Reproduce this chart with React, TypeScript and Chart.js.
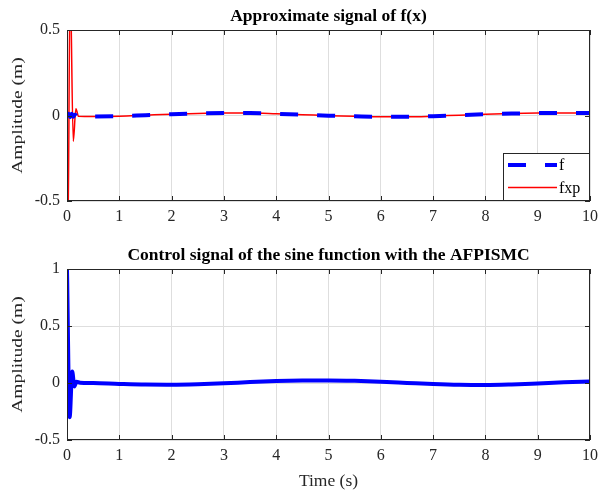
import React, { useEffect, useRef } from 'react';
import { Chart, registerables } from 'chart.js';

Chart.register(...registerables);

// ---- Text ----
const topTitle = 'Approximate signal of f(x)';
const bottomTitle = 'Control signal of the sine function with the AFPISMC';
const yAxisLabel = 'Amplitude (m)';
const xAxisLabel = 'Time (s)';
const fLabel = 'f';
const fxpLabel = 'fxp';

// ---- Ticks ----
const xTicks = [0, 1, 2, 3, 4, 5, 6, 7, 8, 9, 10];
const yTicksTop = [-0.5, 0, 0.5];
const yTicksBottom = [-0.5, 0, 0.5, 1];

// ---- Series: f (blue dashed) ----
const fTime = [0, 0.03, 0.06, 0.09, 0.12, 0.15, 0.2, 0.5, 1, 1.5, 2, 2.5, 3, 3.5, 4, 4.5, 5, 5.5, 6, 6.5, 7, 7.5, 8, 8.5, 9, 9.5, 10];
const fValues = [0, 0.01, -0.01, 0.01, -0.008, 0.005, -0.005, -0.006, -0.004, 0.002, 0.008, 0.012, 0.014, 0.014, 0.01, 0.005, -0.001, -0.005, -0.008, -0.008, -0.004, 0.002, 0.007, 0.011, 0.014, 0.015, 0.014];

// ---- Series: fxp (red) ----
const fxpTime = [0, 0.015, 0.06, 0.12, 0.17, 0.22, 0.5, 1, 1.5, 2, 2.5, 3, 3.5, 4, 4.5, 5, 5.5, 6, 6.5, 7, 7.5, 8, 8.5, 9, 9.5, 10];
const fxpValues = [0.1, -0.8, 0.8, -0.15, 0.04, -0.005, -0.006, -0.004, 0.002, 0.008, 0.012, 0.014, 0.014, 0.01, 0.005, -0.001, -0.005, -0.008, -0.008, -0.004, 0.002, 0.007, 0.011, 0.014, 0.015, 0.014];

// ---- Series: control signal u (blue) ----
const uTime = [0, 0.05, 0.1, 0.14, 0.18, 0.25, 0.5, 1, 1.5, 2, 2.5, 3, 3.5, 4, 4.5, 5, 5.5, 6, 6.5, 7, 7.5, 8, 8.5, 9, 9.5, 10];
const uValues = [1, -0.3, 0.1, -0.03, 0.01, 0.003, 0, -0.008, -0.014, -0.015, -0.011, -0.003, 0.008, 0.017, 0.022, 0.023, 0.019, 0.011, 0.001, -0.009, -0.016, -0.018, -0.013, -0.004, 0.006, 0.013];

const FONT = '"Liberation Serif", "Times New Roman", serif';
const AXIS_COLOR = '#262626';
const GRID_COLOR = '#dedede';

const toPoints = (xs: number[], ys: number[]) => xs.map((x, i) => ({ x, y: ys[i] }));

function drawStretchedText(ctx: CanvasRenderingContext2D, text: string, x: number, y: number, rotate: boolean, stretch: number) {
  ctx.save();
  ctx.translate(x, y);
  if (rotate) ctx.rotate(-Math.PI / 2);
  ctx.scale(stretch, 1);
  ctx.fillText(text, 0, 0);
  ctx.restore();
}

const decorPlugin = {
  id: 'decor',
  afterDraw(chart: any, _args: any, opts: any) {
    const { ctx, chartArea: a, scales } = chart;
    const xs = scales.x;
    const ys = scales.y;
    ctx.save();
    // frame
    ctx.strokeStyle = AXIS_COLOR;
    ctx.lineWidth = 1;
    ctx.strokeRect(Math.round(a.left) + 0.5, Math.round(a.top) + 0.5, Math.round(a.width) - 1, Math.round(a.height) - 1);
    // inward ticks
    ctx.beginPath();
    xTicks.forEach((v) => {
      const px = Math.round(xs.getPixelForValue(v)) + 0.5;
      ctx.moveTo(px, a.bottom);
      ctx.lineTo(px, a.bottom - 5);
      ctx.moveTo(px, a.top);
      ctx.lineTo(px, a.top + 5);
    });
    (opts.yTicks as number[]).forEach((v) => {
      const py = Math.round(ys.getPixelForValue(v)) + 0.5;
      ctx.moveTo(a.left, py);
      ctx.lineTo(a.left + 5, py);
      ctx.moveTo(a.right, py);
      ctx.lineTo(a.right - 5, py);
    });
    ctx.stroke();

    // title
    ctx.fillStyle = '#000';
    ctx.textAlign = 'center';
    ctx.textBaseline = 'middle';
    ctx.font = 'bold 17.5px ' + FONT;
    ctx.fillText(opts.title, (a.left + a.right) / 2, opts.titleY);

    // y label
    ctx.fillStyle = AXIS_COLOR;
    ctx.font = '15px ' + FONT;
    drawStretchedText(ctx, yAxisLabel, 18, (a.top + a.bottom) / 2, true, 1.3);

    // x label
    if (opts.xLabel) {
      ctx.font = '17.5px ' + FONT;
      ctx.fillText(opts.xLabel, (a.left + a.right) / 2, opts.xLabelY);
    }

    // legend
    if (opts.legend) {
      const w = 86;
      const h = 47;
      const lx = Math.round(a.right) - 1 - w;
      const ly = Math.round(a.bottom) - 1 - h;
      ctx.fillStyle = '#fff';
      ctx.fillRect(lx, ly, w, h);
      ctx.strokeStyle = AXIS_COLOR;
      ctx.lineWidth = 1;
      ctx.strokeRect(lx + 0.5, ly + 0.5, w, h);
      const ds = chart.data.datasets;
      ds.forEach((d: any, i: number) => {
        const yy = ly + 12 + i * 22.5;
        ctx.save();
        ctx.strokeStyle = d.borderColor;
        ctx.lineWidth = d.borderWidth;
        ctx.setLineDash(d.borderDash || []);
        ctx.beginPath();
        ctx.moveTo(lx + 5, yy);
        ctx.lineTo(lx + 54, yy);
        ctx.stroke();
        ctx.restore();
        ctx.fillStyle = '#000';
        ctx.textAlign = 'left';
        ctx.textBaseline = 'middle';
        ctx.font = '16px ' + FONT;
        ctx.fillText(d.label, lx + 56, yy + 1);
      });
    }
    ctx.restore();
  },
};

function makeOptions(yMin: number, yMax: number, yTicks: number[], padTop: number, xHeight: number, decor: any) {
  return {
    responsive: false,
    animation: false as const,
    layout: { padding: { top: padTop, right: 8, left: 0, bottom: 0 } },
    plugins: {
      legend: { display: false },
      title: { display: false },
      tooltip: { enabled: false },
      decor,
    },
    elements: { point: { radius: 0 } },
    scales: {
      x: {
        type: 'linear' as const,
        min: 0,
        max: 10,
        afterBuildTicks: (s: any) => {
          s.ticks = xTicks.map((v) => ({ value: v }));
        },
        afterFit: (s: any) => {
          s.height = xHeight;
          s.paddingLeft = 0;
          s.paddingRight = 0;
        },
        grid: { color: GRID_COLOR, drawTicks: false },
        border: { display: false },
        ticks: {
          autoSkip: false,
          maxRotation: 0,
          padding: 6,
          color: AXIS_COLOR,
          font: { family: FONT, size: 16 },
          callback: (v: any) => String(v),
        },
      },
      y: {
        type: 'linear' as const,
        min: yMin,
        max: yMax,
        afterBuildTicks: (s: any) => {
          s.ticks = yTicks.map((v) => ({ value: v }));
        },
        afterFit: (s: any) => {
          s.width = 67;
          s.paddingTop = 0;
          s.paddingBottom = 0;
        },
        grid: { color: GRID_COLOR, drawTicks: false },
        border: { display: false },
        ticks: {
          autoSkip: false,
          padding: 7,
          color: AXIS_COLOR,
          font: { family: FONT, size: 16 },
          callback: (v: any) => String(v),
        },
      },
    },
  };
}

export default function App() {
  const topRef = useRef<HTMLCanvasElement>(null);
  const botRef = useRef<HTMLCanvasElement>(null);

  useEffect(() => {
    const top = new Chart(topRef.current as HTMLCanvasElement, {
      type: 'line',
      data: {
        datasets: [
          {
            label: fLabel,
            data: toPoints(fTime, fValues),
            borderColor: '#0000ff',
            borderWidth: 4,
            borderDash: [18, 19],
            cubicInterpolationMode: 'monotone',
            fill: false,
          },
          {
            label: fxpLabel,
            data: toPoints(fxpTime, fxpValues),
            borderColor: '#ff0000',
            borderWidth: 1.5,
            cubicInterpolationMode: 'monotone',
            fill: false,
          },
        ],
      },
      options: makeOptions(-0.5, 0.5, yTicksTop, 30, 39, {
        title: topTitle,
        titleY: 16,
        yTicks: yTicksTop,
        legend: true,
      }) as any,
      plugins: [decorPlugin],
    });

    const bottom = new Chart(botRef.current as HTMLCanvasElement, {
      type: 'line',
      data: {
        datasets: [
          {
            label: 'u',
            data: toPoints(uTime, uValues),
            borderColor: '#0000ff',
            borderWidth: 4,
            cubicInterpolationMode: 'monotone',
            fill: false,
          },
        ],
      },
      options: makeOptions(-0.5, 1, yTicksBottom, 29, 53, {
        title: bottomTitle,
        titleY: 15,
        yTicks: yTicksBottom,
        legend: false,
        xLabel: xAxisLabel,
        xLabelY: 241,
      }) as any,
      plugins: [decorPlugin],
    });

    return () => {
      top.destroy();
      bottom.destroy();
    };
  }, []);

  return (
    <div style={{ position: 'fixed', left: 0, top: 0, width: 598, height: 493, background: '#fff' }}>
      <canvas ref={topRef} width={598} height={240} style={{ display: 'block', width: 598, height: 240 }} />
      <canvas ref={botRef} width={598} height={253} style={{ display: 'block', width: 598, height: 253 }} />
    </div>
  );
}
